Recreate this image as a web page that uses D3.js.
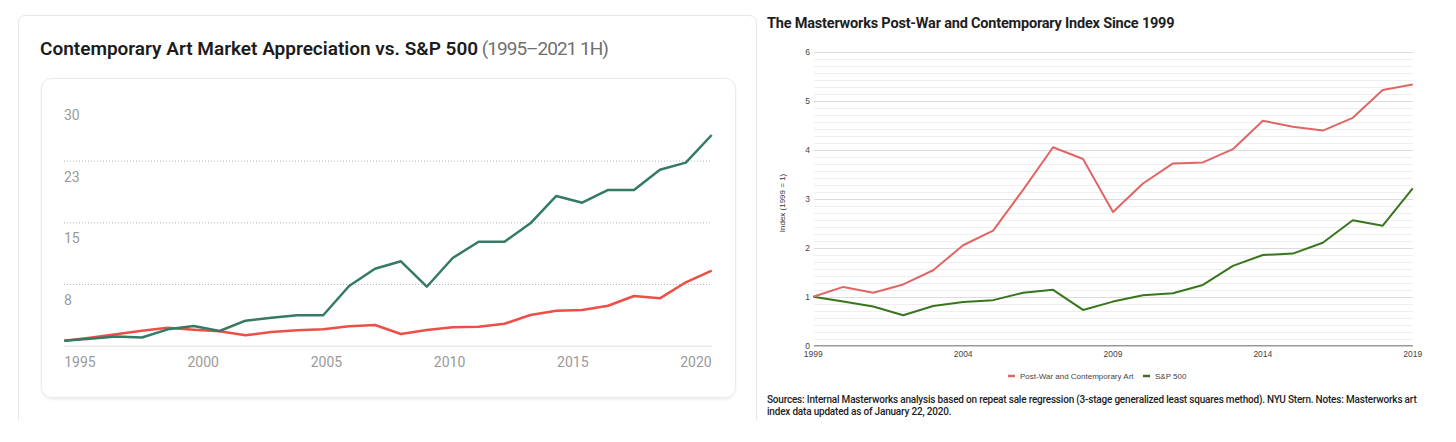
<!DOCTYPE html>
<html>
<head>
<meta charset="utf-8">
<script src="https://cdn.jsdelivr.net/npm/d3@7"></script>
<style>
  html, body { margin: 0; padding: 0; background: #fff; }
  svg { display: block; }
</style>
</head>
<body>
<svg id="chart" width="1456" height="442"></svg>
<script>
// ---------- Left chart data ----------
const leftYears = ["1995","1996","1997","1998","1999","2000","2001","2002","2003","2004","2005","2006","2007",
  "2008","2009","2010","2011","2012","2013","2014","2015","2016","2017","2018","2019","2020"];
const leftGreen = [0.61,0.85,1.12,1.0,1.99,2.39,1.79,3.04,3.40,3.70,3.70,7.26,9.36,
  10.26,7.17,10.66,12.64,12.64,14.88,18.2,17.38,18.93,18.93,21.39,22.25,25.61];
const leftRed = [0.61,0.97,1.39,1.82,2.19,1.95,1.75,1.26,1.67,1.87,1.99,2.36,2.52,
  1.42,1.91,2.24,2.31,2.67,3.73,4.25,4.34,4.86,6.04,5.76,7.71,9.12];
const leftYTicks = [7.5, 15, 22.5, 30];
const leftXLabels = ["1995","2000","2005","2010","2015","2020"];

// ---------- Right chart data ----------
const rightYears = [1999,2000,2001,2002,2003,2004,2005,2006,2007,2008,2009,2010,2011,2012,2013,2014,2015,2016,2017,2018,2019];
const postWarArt = [1.0,1.20,1.08,1.25,1.54,2.05,2.35,3.18,4.05,3.81,2.73,3.31,3.72,3.74,4.01,4.59,4.47,4.39,4.65,5.22,5.33];
const sp500 = [1.0,0.90,0.80,0.62,0.81,0.89,0.93,1.08,1.14,0.73,0.90,1.03,1.07,1.24,1.63,1.85,1.88,2.10,2.56,2.45,3.21];
const rightYTicks = [0,1,2,3,4,5,6];
const rightXTicks = [1999,2004,2009,2014,2019];
const rightSeriesNames = ["Post-War and Contemporary Art", "S&P 500"];

const svg = d3.select("#chart");
svg.append("rect").attr("width",1456).attr("height",442).attr("fill","#fff");

const defs = svg.append("defs");
const f = defs.append("filter").attr("id","shadow").attr("x","-5%").attr("y","-5%").attr("width","110%").attr("height","115%");
f.append("feDropShadow").attr("dx",0).attr("dy",1.5).attr("stdDeviation",1).attr("flood-color","#000").attr("flood-opacity",0.07);

// ================= LEFT =================
const L = svg.append("g");
L.append("path")
  .attr("d","M18.5,420 V23 Q18.5,15.5 26,15.5 H749 Q756.5,15.5 756.5,23 V420")
  .attr("fill","none").attr("stroke","#e7e7e7").attr("stroke-width",1);

const lt = L.append("text").attr("x",40).attr("y",54.5)
  .style("font-family","Roboto, 'Noto Sans', sans-serif").style("font-size","19px");
lt.append("tspan").text("Contemporary Art Market Appreciation vs. S&P 500")
  .attr("fill","#1c1c1c").style("font-weight",600).style("letter-spacing","0px");
lt.append("tspan").text(" (1995–2021 1H)").attr("fill","#707070").style("font-weight",400).style("letter-spacing","-1px");

L.append("rect").attr("x",41.5).attr("y",78.5).attr("width",694).attr("height",319).attr("rx",10)
  .attr("fill","#fff").attr("stroke","#eaeaea").attr("filter","url(#shadow)");

const lx = d3.scalePoint().domain(leftYears).range([64.2, 711.7]);
const ly = d3.scaleLinear().domain([0, 30]).range([345.7, 98.9]);

// dotted gridlines
L.selectAll(".lgrid").data(leftYTicks.filter(v => v < 30)).join("line")
  .attr("x1",64).attr("x2",712).attr("y1",d=>ly(d)+0.5).attr("y2",d=>ly(d)+0.5)
  .attr("stroke","#b5b5b5").attr("stroke-width",1).attr("stroke-dasharray","1,2");
// baseline
L.append("line").attr("x1",64).attr("x2",712).attr("y1",ly(0)+0.5).attr("y2",ly(0)+0.5)
  .attr("stroke","#dedede").attr("stroke-width",1);

// y labels (below their gridline)
L.selectAll(".lyl").data(leftYTicks).join("text")
  .attr("x",64).attr("y",d=>ly(d)+16).attr("dy","0.35em")
  .style("font-family","Roboto, sans-serif").style("font-size","14px").attr("fill","#9a9a9a")
  .text(d=>Math.round(d));

// x labels spread evenly
const lxl = d3.scalePoint().domain(leftXLabels).range([64+16, 712-16]);
L.selectAll(".lxl").data(leftXLabels).join("text")
  .attr("x",d=>lxl(d)).attr("y",362).attr("dy","0.35em").attr("text-anchor","middle")
  .style("font-family","Roboto, sans-serif").style("font-size","14px").attr("fill","#9a9a9a")
  .text(d=>d);

const lline = d3.line().x((d,i)=>lx(leftYears[i])).y(d=>ly(d));
L.append("path").datum(leftRed).attr("d",lline).attr("fill","none")
  .attr("stroke","#ec4e48").attr("stroke-width",2.5).attr("stroke-linejoin","round");
L.append("path").datum(leftGreen).attr("d",lline).attr("fill","none")
  .attr("stroke","#347a66").attr("stroke-width",2.5).attr("stroke-linejoin","round");

// ================= RIGHT =================
const R = svg.append("g");
R.append("text").attr("x",767).attr("y",27.5)
  .style("font-family","Roboto, sans-serif").style("font-size","14.5px").style("font-weight",700)
  .attr("fill","#1e1e1e").style("letter-spacing","-0.2px")
  .text("The Masterworks Post-War and Contemporary Index Since 1999");

const rx = d3.scaleLinear().domain([1999, 2019]).range([813.3, 1412.7]);
const ry = d3.scaleLinear().domain([0, 6]).range([345.7, 51.7]);

// minor gridlines (6 between each major)
const minor = [];
rightYTicks.slice(0,-1).forEach(t => { for (let k=1;k<7;k++) minor.push(t + k/7); });
R.selectAll(".rmin").data(minor).join("line")
  .attr("x1",814).attr("x2",1413).attr("y1",d=>Math.round(ry(d))+0.5).attr("y2",d=>Math.round(ry(d))+0.5)
  .attr("stroke","#efefef").attr("stroke-width",1);
R.selectAll(".rmaj").data(rightYTicks.slice(1)).join("line")
  .attr("x1",814).attr("x2",1413).attr("y1",d=>Math.round(ry(d))+0.5).attr("y2",d=>Math.round(ry(d))+0.5)
  .attr("stroke","#dcdcdc").attr("stroke-width",1.2);
R.append("line").attr("x1",814).attr("x2",1413).attr("y1",ry(0)).attr("y2",ry(0))
  .attr("stroke","#999").attr("stroke-width",1.5);

R.selectAll(".ryl").data(rightYTicks).join("text")
  .attr("x",810).attr("y",d=>ry(d)).attr("dy","0.35em").attr("text-anchor","end")
  .style("font-family","'Liberation Sans', Arial, sans-serif").style("font-size","8.5px").attr("fill","#444")
  .text(d=>d);
R.selectAll(".rxl").data(rightXTicks).join("text")
  .attr("x",d=>rx(d)).attr("y",354).attr("dy","0.35em").attr("text-anchor","middle")
  .style("font-family","'Liberation Sans', Arial, sans-serif").style("font-size","8.5px").attr("fill","#444")
  .text(d=>d);
R.append("text").attr("transform","translate(782,203) rotate(-90)").attr("text-anchor","middle").attr("dy","0.35em")
  .style("font-family","'Liberation Sans', Arial, sans-serif").style("font-size","8px").attr("fill","#333")
  .text("Index (1999 = 1)");

const rline = d3.line().x((d,i)=>rx(rightYears[i])).y(d=>ry(d));
R.append("path").datum(sp500).attr("d",rline).attr("fill","none")
  .attr("stroke","#38761d").attr("stroke-width",2).attr("stroke-linejoin","round");
R.append("path").datum(postWarArt).attr("d",rline).attr("fill","none")
  .attr("stroke","#e06666").attr("stroke-width",2).attr("stroke-linejoin","round");

// legend
const legColors = ["#e06666","#38761d"];
const legX = [1008, 1143];
rightSeriesNames.forEach((n,i)=>{
  R.append("line").attr("x1",legX[i]).attr("x2",legX[i]+7).attr("y1",376).attr("y2",376)
    .attr("stroke",legColors[i]).attr("stroke-width",2.5);
  R.append("text").attr("x",legX[i]+12).attr("y",376).attr("dy","0.35em")
    .style("font-family","'Liberation Sans', Arial, sans-serif").style("font-size","8px").attr("fill","#444")
    .text(n);
});

// sources
const src = R.append("text").attr("x",767).style("font-family","Roboto, sans-serif")
  .style("font-size","10px").style("font-weight",500).attr("fill","#1e1e1e").style("letter-spacing","-0.2px");
src.append("tspan").attr("x",767).attr("y",403)
  .text("Sources: Internal Masterworks analysis based on repeat sale regression (3-stage generalized least squares method). NYU Stern. Notes: Masterworks art");
src.append("tspan").attr("x",767).attr("y",415).text("index data updated as of January 22, 2020.");
</script>
</body>
</html>
